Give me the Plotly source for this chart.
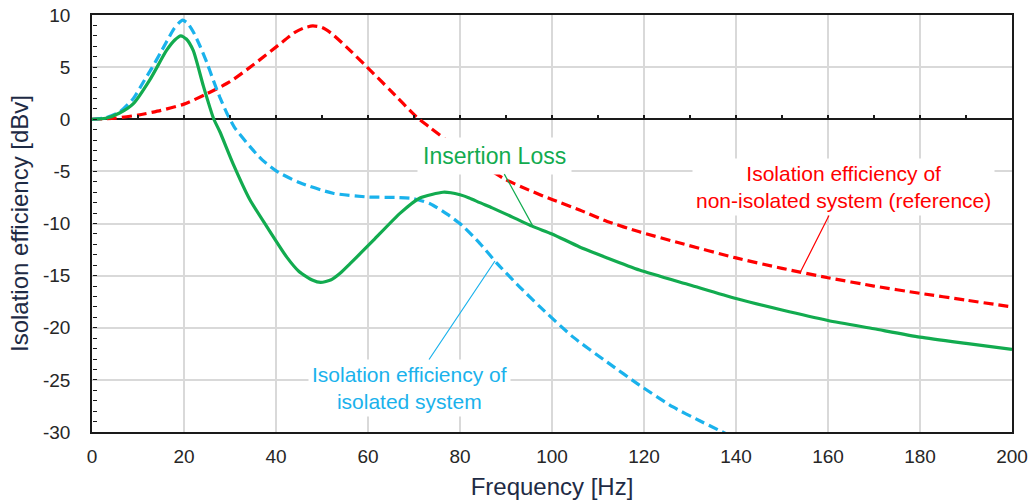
import numpy as np
import plotly.graph_objects as go

# Isolation efficiency of isolated system (blue dashed)
freq_isolated = [0, 3, 6, 9, 11.2, 13, 14.8, 16.3, 17.7, 18.8, 19.7, 20.8, 22, 23.5, 25, 26.4,
                 27.8, 29.3, 31, 34.3, 37, 40.2, 45.2, 52.4, 59.8, 66, 69.8, 73.5, 77.2,
                 80.5, 84.3, 88, 93, 97.4, 104.6, 112, 119, 126.3, 132, 138]
eff_isolated = [0, 0.15, 0.7, 2.0, 3.6, 4.9, 6.3, 7.5, 8.6, 9.2, 9.5, 9.2, 8.4, 7.0, 5.4, 3.7,
                2.1, 0.6, -0.8, -2.6, -3.9, -5.0, -6.1, -7.1, -7.45, -7.5, -7.6, -8.1, -9.1,
                -10.2, -11.9, -13.8, -16.1, -18.0, -20.9, -23.3, -25.5, -27.6, -28.9, -30.2]

# Isolation efficiency of non-isolated system (reference) (red dashed)
freq_reference = [0, 5, 10, 15, 20, 25, 30, 35, 40.5, 44, 46, 48, 50, 52, 55.4, 59.8, 64.8,
                  70.6, 73.5, 77, 80, 85, 90, 95, 100, 106, 112, 119, 128, 140, 150, 160,
                  170, 180, 190, 200]
eff_reference = [0, 0.1, 0.4, 0.85, 1.45, 2.45, 3.6, 5.2, 7.1, 8.3, 8.75, 8.95, 8.8, 8.25,
                 6.9, 5.0, 2.8, 0.2, -0.8, -2.0, -3.0, -4.45, -5.8, -6.8, -7.7, -8.7, -9.8,
                 -10.8, -11.9, -13.3, -14.3, -15.2, -16.0, -16.7, -17.35, -18.0]

# Insertion loss (green solid)
freq_insertion = [0, 3, 6, 9, 12.6, 16.2, 18, 19.3, 20.5, 22, 24.2, 26.4, 27.8, 30.7, 34.3,
                  38, 42.3, 45, 48, 49.7, 52, 54, 56, 58.5, 61.2, 67, 71.3, 76.3, 78, 80,
                  82, 84.3, 87, 90, 95.9, 100, 106, 112, 119, 130, 140, 150, 160, 170, 180,
                  190, 200]
insertion_loss = [0, 0.1, 0.6, 1.5, 3.8, 6.6, 7.6, 8.0, 7.7, 6.6, 3.2, 0.1, -1.2, -4.3, -7.7,
                  -10.3, -13.2, -14.6, -15.45, -15.65, -15.4, -14.75, -13.9, -12.8, -11.6,
                  -9.0, -7.55, -7.0, -7.05, -7.25, -7.55, -8.0, -8.5, -9.1, -10.3, -11.0,
                  -12.25, -13.3, -14.46, -15.9, -17.2, -18.3, -19.3, -20.1, -20.9, -21.5,
                  -22.07]

x_ticks = list(range(0, 201, 20))
y_ticks = list(range(-30, 11, 5))
y_tick_labels = [str(v) for v in y_ticks]

RED = "#FF0000"
BLUE = "#1AB2EC"
GREEN = "#12AB4F"
FONT = "Liberation Sans, Arial, sans-serif"
TITLE_COLOR = "#1E2B45"
TICK_COLOR = "#262626"
AXIS_COLOR = "#1a1a1a"

fig = go.Figure()

fig.add_trace(go.Scatter(x=freq_reference, y=eff_reference, mode="lines",
                         line=dict(color=RED, width=3.2, dash="10px,5px", shape="spline", smoothing=0.6),
                         name="reference", showlegend=False, hoverinfo="skip"))
fig.add_trace(go.Scatter(x=freq_isolated, y=eff_isolated, mode="lines",
                         line=dict(color=BLUE, width=3.2, dash="10px,5px", shape="spline", smoothing=0.6),
                         name="isolated", showlegend=False, hoverinfo="skip"))
fig.add_trace(go.Scatter(x=freq_insertion, y=insertion_loss, mode="lines",
                         line=dict(color=GREEN, width=3.2, shape="spline", smoothing=0.6),
                         name="Insertion Loss", showlegend=False, hoverinfo="skip"))
# dummy trace to carry the extra tick axes (ticks on the zero line, minor y ticks)
fig.add_trace(go.Scatter(x=[x_ticks[0]], y=[None], xaxis="x2", yaxis="y2",
                         mode="lines", showlegend=False, hoverinfo="skip"))

yr = [y_ticks[0], y_ticks[-1]]
xr = [x_ticks[0], x_ticks[-1]]

fig.update_layout(
    width=1031, height=504,
    margin=dict(l=92, r=19, t=15, b=72),
    paper_bgcolor="white", plot_bgcolor="white",
    font=dict(family=FONT, color=TICK_COLOR),
    xaxis=dict(
        range=xr, tickvals=x_ticks, automargin=False,
        showgrid=True, gridcolor="#D9D9D9", gridwidth=2,
        showline=True, linecolor=AXIS_COLOR, linewidth=1.6, mirror=True,
        ticks="", zeroline=False,
        tickfont=dict(size=19, color=TICK_COLOR, family=FONT),
        ticklabelstandoff=6,
        title=dict(text="Frequency [Hz]", font=dict(size=24, color=TITLE_COLOR, family=FONT), standoff=13),
    ),
    xaxis2=dict(
        range=xr, overlaying="x", anchor="free", automargin=False,
        position=(0 - yr[0]) / (yr[1] - yr[0]),
        dtick=10, tick0=0, ticks="inside", ticklen=4, tickwidth=1.6, tickcolor=AXIS_COLOR,
        showticklabels=False, showgrid=False, showline=False, zeroline=False,
    ),
    yaxis=dict(
        range=yr, tickvals=y_ticks, ticktext=y_tick_labels, automargin=False,
        showgrid=True, gridcolor="#D9D9D9", gridwidth=2,
        showline=True, linecolor=AXIS_COLOR, linewidth=1.6, mirror=True,
        zeroline=True, zerolinecolor=AXIS_COLOR, zerolinewidth=2,
        ticks="",
        tickfont=dict(size=19, color=TICK_COLOR, family=FONT),
        ticklabelstandoff=16,
        title=dict(text="Isolation efficiency [dBv]", font=dict(size=24, color=TITLE_COLOR, family=FONT), standoff=8),
    ),
    yaxis2=dict(
        range=yr, overlaying="y", anchor="free", position=0, side="left", automargin=False,
        dtick=1, tick0=0, ticks="inside", ticklen=4, tickwidth=1.4, tickcolor=AXIS_COLOR,
        showticklabels=False, showgrid=False, showline=False, zeroline=False,
    ),
)

def pt(freqs, vals, f):
    return f, float(np.interp(f, freqs, vals))

gx, gy = pt(freq_insertion, insertion_loss, 95.9)
rx, ry = pt(freq_reference, eff_reference, 154.0)
bx, by = pt(freq_isolated, eff_isolated, 87.6)

fig.add_annotation(x=gx, y=gy, xref="x", yref="y", text="Insertion Loss",
                   showarrow=True, arrowhead=0, arrowwidth=1.2, arrowcolor=GREEN,
                   ax=-39, ay=-71, standoff=0,
                   font=dict(size=23, color=GREEN, family=FONT), bgcolor="white", borderpad=5)
fig.add_annotation(x=rx, y=ry, xref="x", yref="y",
                   text="Isolation efficiency of<br>non-isolated system (reference)",
                   showarrow=True, arrowhead=0, arrowwidth=1.2, arrowcolor=RED,
                   ax=43, ay=-85, standoff=0,
                   font=dict(size=21, color=RED, family=FONT), bgcolor="white", borderpad=3)
fig.add_annotation(x=bx, y=by, xref="x", yref="y",
                   text="Isolation efficiency of<br>isolated system",
                   showarrow=True, arrowhead=0, arrowwidth=1.2, arrowcolor=BLUE,
                   ax=-85, ay=127, standoff=0,
                   font=dict(size=21, color=BLUE, family=FONT), bgcolor="white", borderpad=3)

fig.write_html("out.html",
               config={"displayModeBar": False},
               post_script="document.body.style.margin='0px';document.body.style.overflow='hidden';")
